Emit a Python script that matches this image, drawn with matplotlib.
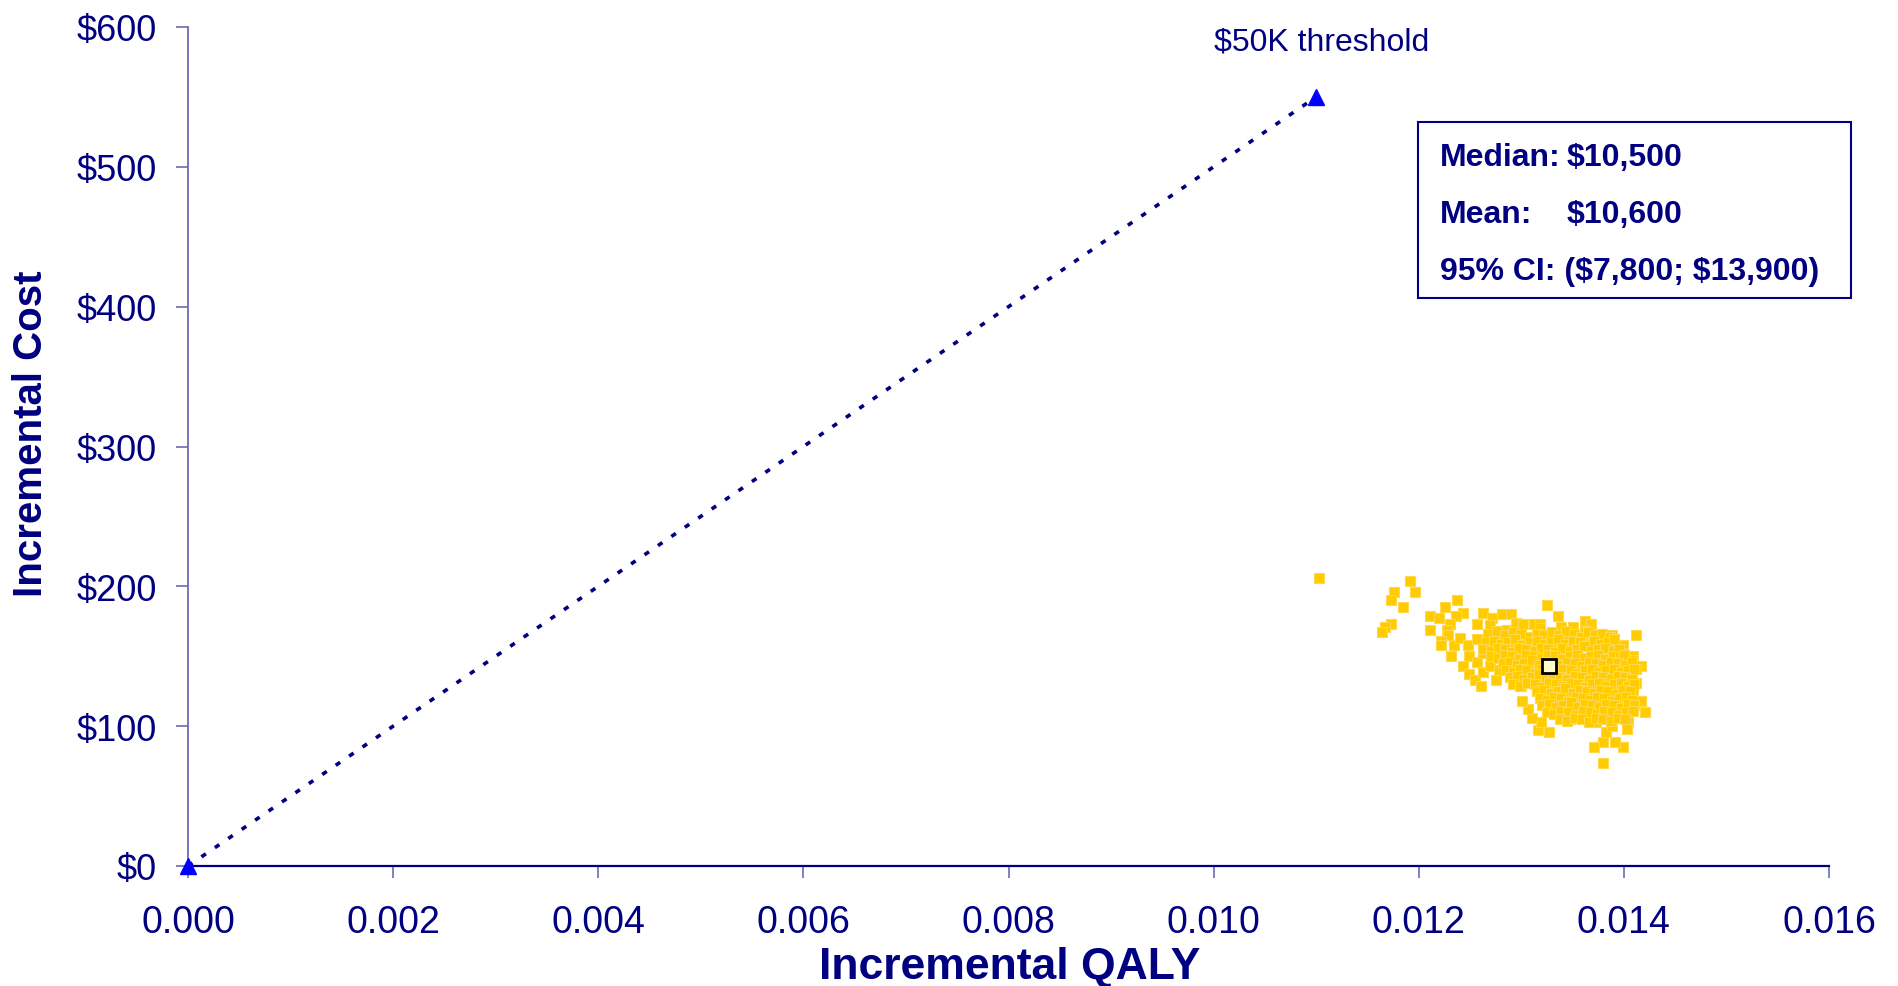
import matplotlib
matplotlib.use("Agg")
import matplotlib.pyplot as plt
from matplotlib.patches import Rectangle
from matplotlib.ticker import FuncFormatter

plt.rcParams['font.family'] = ['Liberation Sans', 'DejaVu Sans']

NAVY = '#000080'
AXIS_GREY = '#6b6bb5'

# Willingness-to-pay line ($50K per QALY)
threshold_qaly = [0.0, 0.011]
threshold_cost = [0, 550]

# Mean of the probabilistic simulations
mean_qaly = 0.01327
mean_cost = 143

# Probabilistic sensitivity analysis draws (incremental QALY, incremental cost)
qaly_sim = [
    0.01103, 0.01191, 0.01176, 0.01196, 0.01173, 0.01185, 0.01173, 0.01167, 0.01164, 0.01226,
    0.01237, 0.01243, 0.01236, 0.01211, 0.01220, 0.01211, 0.01230, 0.01228, 0.01229, 0.01222,
    0.01222, 0.01234, 0.01240, 0.01248, 0.01231, 0.01249, 0.01243, 0.01257, 0.01249, 0.01255,
    0.01261, 0.01263, 0.01269, 0.01275, 0.01257, 0.01257, 0.01263, 0.01281, 0.01290, 0.01271,
    0.01269, 0.01271, 0.01278, 0.01286, 0.01295, 0.01302, 0.01295, 0.01301, 0.01266, 0.01263,
    0.01276, 0.01282, 0.01325, 0.01336, 0.01312, 0.01318, 0.01318, 0.01328, 0.01339, 0.01350,
    0.01362, 0.01368, 0.01362, 0.01315, 0.01321, 0.01330, 0.01341, 0.01354, 0.01360, 0.01367,
    0.01380, 0.01388, 0.01385, 0.01399, 0.01412, 0.01399, 0.01409, 0.01409, 0.01417, 0.01412,
    0.01406, 0.01412, 0.01409, 0.01417, 0.01421, 0.01404, 0.01403, 0.01399, 0.01391, 0.01380,
    0.01371, 0.01380, 0.01383, 0.01388, 0.01327, 0.01316, 0.01319, 0.01310, 0.01307, 0.01301,
    0.01315, 0.01316, 0.01300, 0.01292, 0.01286, 0.01278, 0.01305, 0.01308, 0.01347, 0.01363,
    0.01373, 0.01334, 0.01328, 0.01341, 0.01354, 0.01380, 0.01393, 0.01399,
    0.01268, 0.01276, 0.01284, 0.01292, 0.01300, 0.01308, 0.01315, 0.01322, 0.01330, 0.01337,
    0.01344, 0.01351, 0.01358, 0.01365, 0.01372, 0.01379, 0.01386,
    0.01266, 0.01273, 0.01280, 0.01287, 0.01294, 0.01301, 0.01308, 0.01315, 0.01322, 0.01329,
    0.01336, 0.01343, 0.01350, 0.01357, 0.01364, 0.01371, 0.01378, 0.01385, 0.01390,
    0.01263, 0.01270, 0.01277, 0.01284, 0.01291, 0.01298, 0.01305, 0.01312, 0.01319, 0.01326,
    0.01333, 0.01340, 0.01347, 0.01354, 0.01361, 0.01368, 0.01375, 0.01382, 0.01389, 0.01395,
    0.01270, 0.01277, 0.01284, 0.01291, 0.01298, 0.01305, 0.01312, 0.01319, 0.01326, 0.01333,
    0.01340, 0.01347, 0.01354, 0.01361, 0.01368, 0.01375, 0.01382, 0.01389, 0.01396, 0.01400,
    0.01282, 0.01289, 0.01296, 0.01303, 0.01310, 0.01317, 0.01324, 0.01331, 0.01338, 0.01345,
    0.01352, 0.01359, 0.01366, 0.01373, 0.01380, 0.01387, 0.01394, 0.01401, 0.01408,
    0.01285, 0.01292, 0.01299, 0.01306, 0.01313, 0.01320, 0.01327, 0.01334, 0.01341, 0.01348,
    0.01355, 0.01362, 0.01369, 0.01376, 0.01383, 0.01390, 0.01397, 0.01404, 0.01410,
    0.01289, 0.01296, 0.01303, 0.01310, 0.01317, 0.01324, 0.01331, 0.01338, 0.01345, 0.01352,
    0.01359, 0.01366, 0.01373, 0.01380, 0.01387, 0.01394, 0.01401, 0.01408,
    0.01292, 0.01299, 0.01306, 0.01313, 0.01320, 0.01327, 0.01334, 0.01341, 0.01348, 0.01355,
    0.01362, 0.01369, 0.01376, 0.01383, 0.01390, 0.01397, 0.01404, 0.01410,
    0.01315, 0.01322, 0.01329, 0.01336, 0.01343, 0.01350, 0.01357, 0.01364, 0.01371, 0.01378,
    0.01385, 0.01392, 0.01399, 0.01406,
    0.01318, 0.01325, 0.01332, 0.01339, 0.01346, 0.01353, 0.01360, 0.01367, 0.01374, 0.01381,
    0.01388, 0.01395, 0.01402, 0.01408,
    0.01320, 0.01327, 0.01334, 0.01341, 0.01348, 0.01355, 0.01362, 0.01369, 0.01376, 0.01383,
    0.01390, 0.01397, 0.01404, 0.01410,
    0.01325, 0.01332, 0.01339, 0.01346, 0.01353, 0.01360, 0.01367, 0.01374, 0.01381, 0.01388,
    0.01395, 0.01402, 0.01409,
    0.01338, 0.01345, 0.01352, 0.01359, 0.01366, 0.01373, 0.01380, 0.01387, 0.01394, 0.01401,
]
cost_sim = [
    206, 204, 196, 196, 190, 185, 173, 171, 167, 185,
    190, 181, 179, 179, 177, 169, 173, 169, 165, 161,
    158, 158, 163, 158, 150, 150, 143, 146, 137, 133,
    129, 139, 143, 133, 162, 173, 181, 180, 180, 177,
    172, 165, 165, 169, 174, 173, 162, 162, 155, 152,
    153, 149, 187, 179, 173, 173, 170, 166, 171, 171,
    175, 173, 168, 160, 160, 160, 162, 161, 162, 158,
    160, 165, 158, 158, 165, 152, 150, 147, 143, 141,
    138, 131, 125, 118, 110, 103, 98, 85, 89, 89,
    85, 74, 96, 100, 96, 97, 103, 106, 112, 118,
    125, 131, 129, 139, 143, 140, 150, 143, 105, 106,
    103, 109, 122, 124, 129, 119, 115, 119,
    166, 168, 165, 167, 166, 164, 166, 165, 167, 165,
    168, 166, 164, 167, 165, 166, 164,
    160, 161, 159, 160, 162, 158, 160, 161, 159, 160,
    162, 159, 161, 160, 158, 161, 159, 160, 162,
    155, 154, 156, 155, 153, 156, 155, 154, 156, 155,
    153, 156, 154, 155, 157, 154, 155, 156, 154, 155,
    150, 149, 151, 150, 148, 151, 150, 149, 151, 150,
    148, 150, 151, 149, 150, 151, 148, 150, 149, 151,
    145, 146, 144, 145, 147, 144, 146, 145, 144, 146,
    145, 143, 146, 145, 144, 146, 145, 144, 146,
    140, 139, 141, 140, 138, 141, 140, 139, 141, 140,
    138, 140, 141, 139, 140, 141, 139, 140, 141,
    135, 136, 134, 135, 137, 134, 136, 135, 134, 136,
    135, 133, 136, 135, 134, 136, 135, 134,
    130, 129, 131, 130, 128, 131, 130, 129, 131, 130,
    128, 130, 131, 129, 130, 131, 129, 130,
    125, 126, 124, 125, 127, 124, 126, 125, 124, 126,
    125, 123, 126, 125,
    120, 119, 121, 120, 118, 121, 120, 119, 121, 120,
    118, 120, 121, 119,
    115, 116, 114, 115, 117, 114, 116, 115, 114, 116,
    115, 113, 116, 115,
    110, 109, 111, 110, 108, 111, 110, 109, 111, 110,
    108, 110, 111,
    105, 104, 106, 105, 103, 106, 105, 104, 106, 105,
]

x_ticks = [0.000, 0.002, 0.004, 0.006, 0.008, 0.010, 0.012, 0.014, 0.016]
y_ticks = [0, 100, 200, 300, 400, 500, 600]

summary_labels = ["Median:", "Mean:", "95% CI:"]
summary_values = ["$10,500", "$10,600", "($7,800; $13,900)"]

W, H = 1898, 987
fig = plt.figure(figsize=(W / 100, H / 100), dpi=100)
ax = fig.add_axes([188 / W, 1 - 867 / H, (1829 - 188) / W, (867 - 28) / H])

# Threshold line and its end markers
ax.plot(threshold_qaly, threshold_cost, color=NAVY, lw=2.6,
        dashes=(1.5, 3.0), zorder=2)
ax.plot(threshold_qaly, threshold_cost, linestyle='none', marker='^',
        color='#0000FF', ms=11, clip_on=False, zorder=4)
ax.text(0.01105, 584, "$50K threshold", ha='center', va='baseline',
        fontsize=23, color=NAVY, parse_math=False)

# Simulation cloud and mean
ax.scatter(qaly_sim, cost_sim, marker='s', s=52, c='#FFCC00',
           edgecolors='#FFD84D', linewidths=0.8, zorder=3)
ax.plot([mean_qaly], [mean_cost], marker='s', ms=9.5, mfc='#FFFFCC',
        mec='black', mew=2.0, linestyle='none', zorder=5)

ax.set_xlim(0, 0.016)
ax.set_ylim(0, 600)
ax.set_xticks(x_ticks)
ax.set_yticks(y_ticks)
ax.xaxis.set_major_formatter(FuncFormatter(lambda v, p: f"{v:.3f}"))
ax.yaxis.set_major_formatter(FuncFormatter(lambda v, p: f"${v:,.0f}"))

for side in ('top', 'right'):
    ax.spines[side].set_visible(False)
ax.spines['left'].set_color(AXIS_GREY)
ax.spines['left'].set_linewidth(1.3)
ax.spines['bottom'].set_color(NAVY)
ax.spines['bottom'].set_linewidth(1.6)

ax.tick_params(axis='both', direction='out', length=8.5, width=1.2,
               color=AXIS_GREY, labelcolor=NAVY)
ax.tick_params(axis='x', pad=19, labelsize=27)
ax.tick_params(axis='y', pad=14, labelsize=26)

# Summary box
box_left, box_right = (1418 - 188) / 1641, (1851 - 188) / 1641
box_bottom, box_top = (867 - 299) / 839, (867 - 123) / 839
ax.add_patch(Rectangle((box_left, box_bottom), box_right - box_left,
                       box_top - box_bottom, transform=ax.transAxes,
                       fill=True, facecolor='white', edgecolor=NAVY,
                       lw=1.5, clip_on=False, zorder=6))
label_x = (1440 - 188) / 1641
value_x = (1567 - 188) / 1641
baselines = [(867 - 166) / 839, (867 - 223) / 839, (867 - 280) / 839]
text_kw = dict(transform=ax.transAxes, fontsize=23, fontweight='bold',
               color=NAVY, va='baseline', zorder=7, parse_math=False)
for i, (lab, val, yb) in enumerate(zip(summary_labels, summary_values, baselines)):
    if i < 2:
        ax.text(label_x, yb, lab, **text_kw)
        ax.text(value_x, yb, val, **text_kw)
    else:
        ax.text(label_x, yb, f"{lab} {val}", **text_kw)

fig.text(31 / W, 1 - 434 / H, "Incremental Cost", rotation=90, ha='center',
         va='center', fontsize=29, fontweight='bold', color=NAVY)
fig.text(1010 / W, 1 - 979 / H, "Incremental QALY", ha='center',
         va='baseline', fontsize=32, fontweight='bold', color=NAVY)

fig.savefig("out.png", dpi=100, facecolor='white')
